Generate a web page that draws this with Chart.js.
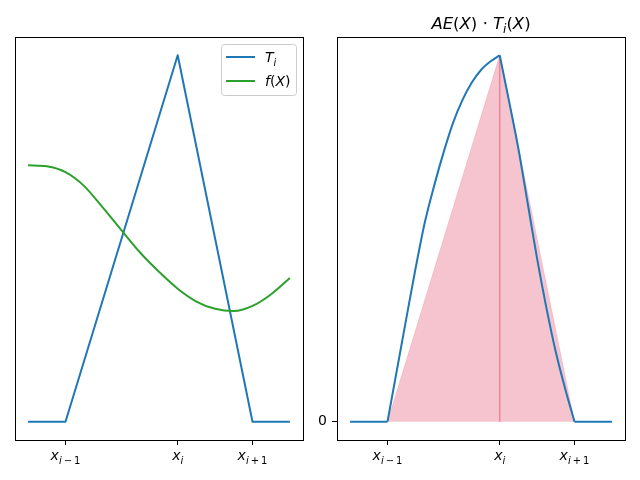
<!DOCTYPE html>
<html>
<head>
<meta charset="utf-8">
<script src="https://cdn.jsdelivr.net/npm/chart.js@4.4.1/dist/chart.umd.min.js"></script>
<style>
  body { margin: 0; background: #fff; }
  canvas { position: absolute; top: 0; }
</style>
</head>
<body>
<canvas id="left" width="320" height="480" style="left:0"></canvas>
<canvas id="right" width="340" height="480" style="left:300px"></canvas>
<script>
// nodes x_{i-1}, x_i, x_{i+1}
const nodeX = [0, 3, 5];
const nodeSubs = ['i\u2009\u2212\u20091', 'i', 'i\u2009+\u20091'];

// hat function T_i
const hatX = [-1, 0, 3, 5, 6];
const hatY = [0, 0, 1, 0, 0];

// f(X)
const fX = [-1, -0.5, 0, 0.5, 1, 1.5, 2, 2.5, 3, 3.5, 4, 4.5, 5, 5.5, 6];
const fY = [0.700, 0.697, 0.681, 0.643, 0.584, 0.522, 0.461, 0.409, 0.363, 0.328, 0.308, 0.302, 0.316, 0.348, 0.392];

// AE(X) * T_i(X)
const prodX = [-1, 0, 0.25, 0.5, 0.75, 1, 1.25, 1.5, 1.75, 2, 2.25, 2.5, 2.75, 3,
               3.25, 3.5, 3.75, 4, 4.25, 4.5, 4.75, 5, 6];
const prodY = [0, 0, 0.14, 0.28, 0.418, 0.545, 0.645, 0.735, 0.815, 0.877, 0.925, 0.960, 0.983, 1.0,
               0.875, 0.745, 0.595, 0.445, 0.31, 0.19, 0.09, 0, 0];

// shaded triangle and the line at x_i
const triX = [0, 3, 5];
const triY = [0, 1, 0];
const midX = [3, 3];
const midY = [0, 1];

const yTicksRight = [0];

const BLUE = '#1f77b4';
const GREEN = '#2ca02c';
const FONT = "'DejaVu Sans', sans-serif";

function pts(xs, ys) {
  return xs.map((x, i) => ({ x: x, y: ys[i] }));
}
function piece(xs, ys, from, to) {
  const i0 = xs.indexOf(from), i1 = xs.indexOf(to);
  return pts(xs.slice(i0, i1 + 1), ys.slice(i0, i1 + 1));
}

// small mathtext helper: italic letters, subscripts
function partFont(p) {
  return (p.it ? 'italic ' : '') + p.sz + 'px ' + FONT;
}
function drawMath(ctx, parts, cx, base, align) {
  let w = 0;
  parts.forEach(p => { ctx.font = partFont(p); p.w = ctx.measureText(p.t).width; w += p.w; });
  let x = align === 'left' ? cx : cx - w / 2;
  ctx.textAlign = 'left';
  ctx.textBaseline = 'alphabetic';
  ctx.fillStyle = '#000';
  parts.forEach(p => {
    ctx.font = partFont(p);
    ctx.fillText(p.t, x, base + (p.dy || 0));
    x += p.w;
  });
}
function subParts(letter, sub, sz) {
  const s = Math.round(sz * 0.72);
  const d = sz * 0.25;
  return [
    { t: letter, it: true, sz: sz },
    { t: sub[0], it: true, sz: s, dy: d },
    { t: sub.slice(1), it: false, sz: s, dy: d }
  ];
}

const framePlugin = {
  id: 'frame',
  afterDraw(chart) {
    const a = chart.chartArea;
    const ctx = chart.ctx;
    ctx.save();
    ctx.strokeStyle = '#000';
    ctx.lineWidth = 1;
    ctx.strokeRect(Math.round(a.left) + 0.5, Math.round(a.top) + 0.5,
                   Math.round(a.right - a.left), Math.round(a.bottom - a.top));
    // x tick labels
    const xs = chart.scales.x;
    nodeX.forEach((v, i) => {
      drawMath(ctx, subParts('x', nodeSubs[i], 14), xs.getPixelForValue(v), a.bottom + 20);
    });
    ctx.restore();
  }
};

const legendPlugin = {
  id: 'mathLegend',
  afterDraw(chart) {
    const a = chart.chartArea;
    const ctx = chart.ctx;
    const w = 75, h = 51;
    const x0 = a.right - 7 - w, y0 = a.top + 7;
    ctx.save();
    ctx.beginPath();
    ctx.roundRect(x0 + 0.5, y0 + 0.5, w, h, 3);
    ctx.fillStyle = 'rgba(255,255,255,0.8)';
    ctx.fill();
    ctx.strokeStyle = '#cccccc';
    ctx.lineWidth = 1;
    ctx.stroke();
    const rows = [
      { c: BLUE, parts: subParts('T', 'i', 14) },
      { c: GREEN, parts: [{ t: 'f', it: true, sz: 14 }, { t: '(', sz: 14 }, { t: 'X', it: true, sz: 14 }, { t: ')', sz: 14 }] }
    ];
    rows.forEach((r, i) => {
      const y = y0 + 13 + i * 24;
      ctx.strokeStyle = r.c;
      ctx.lineWidth = 2;
      ctx.beginPath();
      ctx.moveTo(x0 + 5, y);
      ctx.lineTo(x0 + 34, y);
      ctx.stroke();
      drawMath(ctx, r.parts, x0 + 44, y + 5, 'left');
    });
    ctx.restore();
  }
};

const titlePlugin = {
  id: 'mathTitle',
  afterDraw(chart) {
    const a = chart.chartArea;
    const sz = 16.5;
    const parts = [
      { t: 'AE', it: true, sz: sz }, { t: '(', sz: sz }, { t: 'X', it: true, sz: sz }, { t: ')', sz: sz },
      { t: ' \u22c5 ', sz: sz },
      { t: 'T', it: true, sz: sz }, { t: 'i', it: true, sz: 12, dy: 4 },
      { t: '(', sz: sz }, { t: 'X', it: true, sz: sz }, { t: ')', sz: sz }
    ];
    drawMath(chart.ctx, parts, (a.left + a.right) / 2, 29);
  }
};

function xScale() {
  return {
    type: 'linear',
    min: -1.35,
    max: 6.35,
    afterBuildTicks: s => { s.ticks = nodeX.map(v => ({ value: v })); },
    afterFit: s => { s.height = 40; },
    ticks: { callback: () => '', autoSkip: false },
    grid: { drawOnChartArea: false, tickLength: 5, color: '#000', lineWidth: 1 },
    border: { display: false }
  };
}

const lineBase = { pointRadius: 0, borderWidth: 2, borderJoinStyle: 'round', tension: 0 };
const smooth = { pointRadius: 0, borderWidth: 2, borderJoinStyle: 'round', tension: 0.4, cubicInterpolationMode: 'monotone' };

new Chart(document.getElementById('left'), {
  type: 'line',
  data: {
    datasets: [
      Object.assign({ label: 'T_i', data: pts(hatX, hatY), borderColor: BLUE, order: 2 }, lineBase),
      Object.assign({ label: 'f(X)', data: pts(fX, fY), borderColor: GREEN, order: 1 }, smooth)
    ]
  },
  options: {
    responsive: false,
    animation: false,
    layout: { padding: { left: 15, right: 17, top: 37, bottom: 0 } },
    plugins: { legend: { display: false }, tooltip: { enabled: false } },
    scales: {
      x: xScale(),
      y: { type: 'linear', min: -0.05, max: 1.05, display: false }
    }
  },
  plugins: [framePlugin, legendPlugin]
});

new Chart(document.getElementById('right'), {
  type: 'line',
  data: {
    datasets: [
      Object.assign({ label: 'AE(X)T_i(X)', data: piece(prodX, prodY, -1, 0), borderColor: BLUE }, lineBase),
      Object.assign({ label: 'AE(X)T_i(X)', data: piece(prodX, prodY, 0, 3), borderColor: BLUE }, smooth),
      Object.assign({ label: 'AE(X)T_i(X)', data: piece(prodX, prodY, 3, 5), borderColor: BLUE }, smooth),
      Object.assign({ label: 'AE(X)T_i(X)', data: piece(prodX, prodY, 5, 6), borderColor: BLUE }, lineBase),
      { label: 'x_i', data: pts(midX, midY), borderColor: 'rgba(220,20,60,0.35)', borderWidth: 1.5, pointRadius: 0 },
      { label: 'area', data: pts(triX, triY), fill: 'origin', backgroundColor: 'rgba(220,20,60,0.25)',
        borderColor: 'rgba(220,20,60,0.12)', borderWidth: 1, pointRadius: 0, tension: 0 }
    ]
  },
  options: {
    responsive: false,
    animation: false,
    layout: { padding: { left: 0, right: 15, top: 37, bottom: 0 } },
    plugins: { legend: { display: false }, tooltip: { enabled: false } },
    scales: {
      x: xScale(),
      y: {
        type: 'linear',
        min: -0.05,
        max: 1.05,
        afterBuildTicks: s => { s.ticks = yTicksRight.map(v => ({ value: v })); },
        afterFit: s => { s.width = 37; },
        ticks: { color: '#000', font: { family: 'DejaVu Sans', size: 14 }, padding: 5 },
        grid: { drawOnChartArea: false, tickLength: 5, color: '#000', lineWidth: 1 },
        border: { display: false }
      }
    }
  },
  plugins: [framePlugin, titlePlugin]
});
</script>
</body>
</html>
